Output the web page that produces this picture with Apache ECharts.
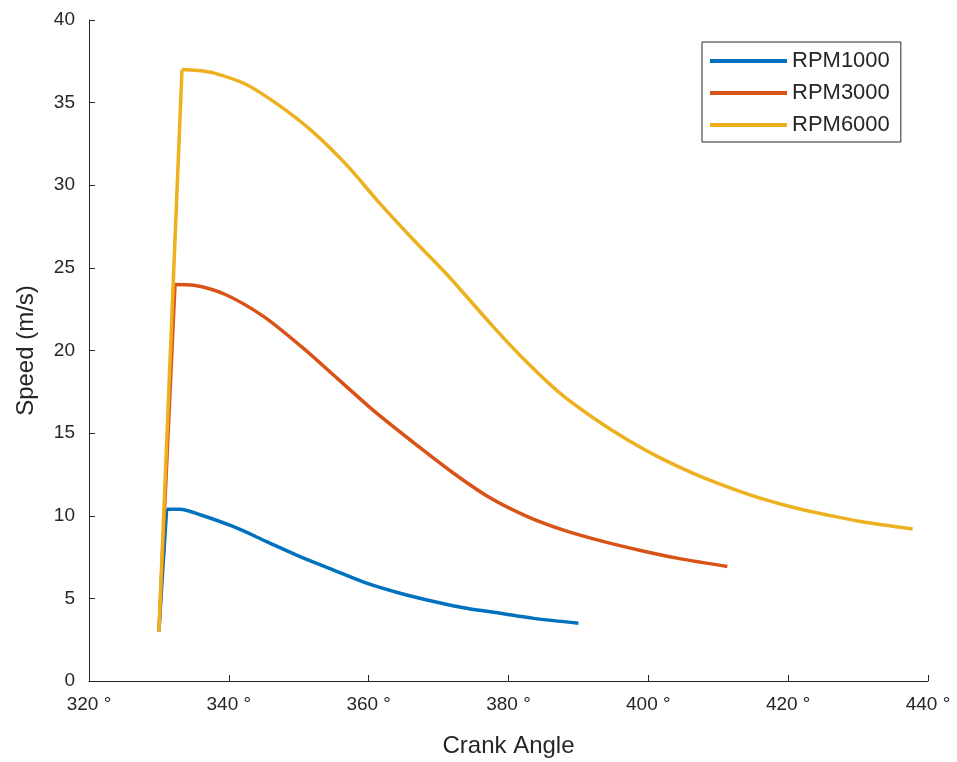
<!DOCTYPE html>
<html>
<head>
<meta charset="utf-8">
<script src="https://cdn.jsdelivr.net/npm/echarts@6/dist/echarts.min.js"></script>
<style>
html,body{margin:0;padding:0;background:#fff;}
#chart{width:957px;height:762px;}
</style>
</head>
<body>
<div id="chart"></div>
<script>
const seriesNames = ['RPM1000', 'RPM3000', 'RPM6000'];
const xTicks = [320, 340, 360, 380, 400, 420, 440];
const yTicks = [0, 5, 10, 15, 20, 25, 30, 35, 40];

const rpm1000Angle = [330, 331.1, 333, 335.9, 340.6, 345.4, 350.2, 354.9, 359.7, 364.5, 369.3, 374.0, 378.8, 383.6, 390];
const rpm1000Speed = [3, 10.4, 10.4, 10.06, 9.35, 8.44, 7.53, 6.73, 5.92, 5.31, 4.81, 4.40, 4.10, 3.79, 3.5];

const rpm3000Angle = [330, 332.3, 335, 339.5, 344.9, 350.3, 355.7, 361.1, 366.5, 371.9, 377.3, 382.7, 388.1, 393.5, 398.9, 404.3, 411.3];
const rpm3000Speed = [3, 24.0, 23.95, 23.39, 22.08, 20.26, 18.24, 16.22, 14.40, 12.65, 11.1, 9.95, 9.1, 8.45, 7.9, 7.42, 6.93];

const rpm6000Angle = [330, 333.3, 335.5, 337.8, 342.5, 347.3, 352.1, 356.9, 361.6, 366.4, 371.2, 377.9, 382.6, 387.4, 392.2, 397.0, 401.7, 406.5, 411.3, 416.1, 420.8, 425.6, 430.4, 437.8];
const rpm6000Speed = [3, 37.0, 36.95, 36.8, 36.1, 34.8, 33.2, 31.2, 28.9, 26.7, 24.6, 21.4, 19.3, 17.4, 15.9, 14.6, 13.5, 12.55, 11.75, 11.05, 10.5, 10.05, 9.65, 9.2];

const colors = ['#0072BD', '#D95319', '#EDB120'];

function pairs(xs, ys) { return xs.map((x, i) => [x, ys[i]]); }

const allData = [
  pairs(rpm1000Angle, rpm1000Speed),
  pairs(rpm3000Angle, rpm3000Speed),
  pairs(rpm6000Angle, rpm6000Speed)
];

const txt = '#262626';
const font = 'Liberation Sans, Arial, Helvetica, sans-serif';

const series = [];
seriesNames.forEach((n, i) => {
  // straight ignition rise (first two points)
  series.push({
    name: n, type: 'line', data: allData[i].slice(0, 2),
    symbol: 'none', smooth: false,
    lineStyle: {width: 3.5, color: colors[i]}
  });
  // smooth decay from the peak onward
  series.push({
    name: n, type: 'line', data: allData[i].slice(1),
    symbol: 'none', smooth: 0.3,
    lineStyle: {width: 3.5, color: colors[i]}
  });
});

const chart = echarts.init(document.getElementById('chart'), null, {renderer: 'canvas'});
chart.setOption({
  animation: false,
  backgroundColor: '#fff',
  color: colors,
  grid: {left: 89, right: 29, top: 20, bottom: 81, containLabel: false, outerBoundsMode: 'none'},
  legend: {
    orient: 'vertical',
    left: 702, top: 42,
    data: seriesNames,
    icon: 'rect',
    itemWidth: 77, itemHeight: 4,
    itemGap: 10,
    padding: [8, 11, 6, 8],
    borderColor: txt, borderWidth: 1,
    backgroundColor: '#fff',
    textStyle: {color: txt, fontSize: 22, fontFamily: font, padding: [0, 0, 0, 0]}
  },
  xAxis: {
    type: 'value',
    min: xTicks[0], max: xTicks[xTicks.length - 1], interval: 20,
    name: 'Crank Angle', nameLocation: 'middle', nameGap: 53,
    nameTextStyle: {color: txt, fontSize: 24, fontFamily: font},
    axisLine: {lineStyle: {color: txt, width: 1}},
    axisTick: {inside: true, length: 6, lineStyle: {color: txt}},
    axisLabel: {color: txt, fontSize: 19, fontFamily: font, margin: 14, formatter: v => v + ' °'},
    splitLine: {show: false}
  },
  yAxis: {
    type: 'value',
    min: yTicks[0], max: yTicks[yTicks.length - 1], interval: 5,
    name: 'Speed (m/s)', nameLocation: 'middle', nameGap: 51,
    nameTextStyle: {color: txt, fontSize: 24, fontFamily: font},
    axisLine: {show: true, lineStyle: {color: txt, width: 1}},
    axisTick: {show: true, inside: true, length: 6, lineStyle: {color: txt}},
    axisLabel: {color: txt, fontSize: 19, fontFamily: font, margin: 14},
    splitLine: {show: false}
  },
  series: series
});
</script>
</body>
</html>
